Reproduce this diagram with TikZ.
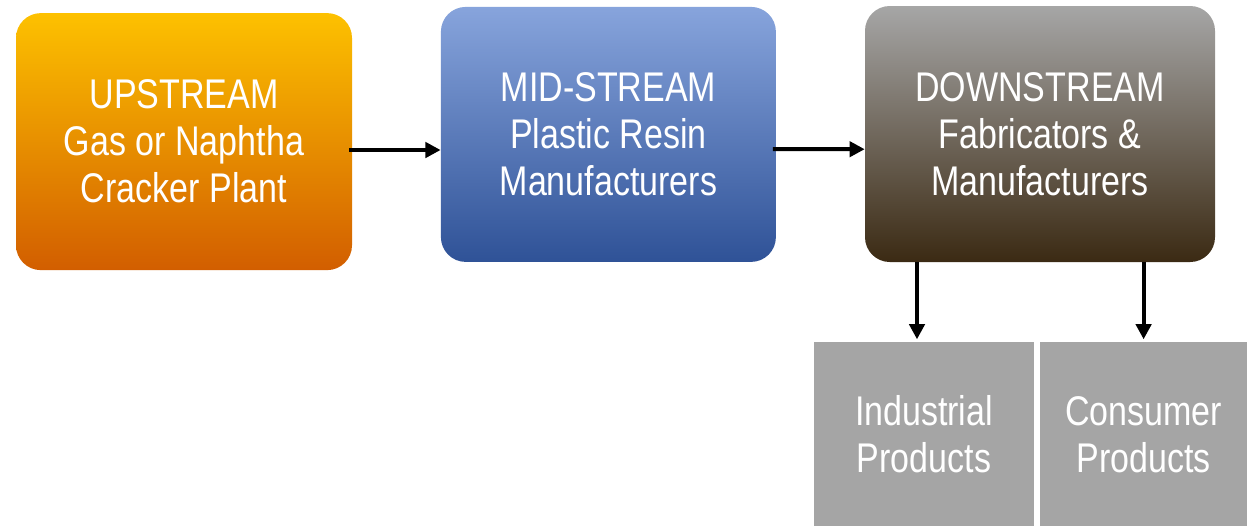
\documentclass[tikz,border=0pt]{standalone}
\usepackage{fontspec}
\setmainfont{Liberation Sans}[FakeStretch=0.82]
\usepackage{tikz}
\usetikzlibrary{arrows.meta, positioning, calc}

\definecolor{upTop}{HTML}{FDC100}
\definecolor{upBot}{HTML}{D25E00}
\definecolor{midTop}{HTML}{87A4DC}
\definecolor{midBot}{HTML}{2F5297}
\definecolor{downTop}{HTML}{A6A6A6}
\definecolor{downBot}{HTML}{3B2A13}
\definecolor{prodGray}{HTML}{A5A5A5}

\begin{document}
\begin{tikzpicture}[>={Triangle[length=0.38cm, width=0.38cm]},
    stage/.style={rounded corners=0.62cm, text=white, align=center,
        inner sep=0pt, font=\fontsize{29.5}{33.5}\selectfont},
    prod/.style={fill=prodGray, text=white, align=center,
        inner sep=0pt, font=\fontsize{29.5}{33.5}\selectfont},
    flow/.style={line width=2.8pt, black, ->}]
    \useasboundingbox (0, 0) rectangle (31.175, -13.15);

    % Stages
    \node[stage, top color=upTop, bottom color=upBot,
        minimum width=8.4cm, minimum height=6.425cm] (up) at (4.6, -3.54)
        {UPSTREAM\\Gas or Naphtha\\Cracker Plant};
    \node[stage, top color=midTop, bottom color=midBot,
        minimum width=8.375cm, minimum height=6.375cm] (mid) at (15.21, -3.36)
        {MID-STREAM\\Plastic Resin\\Manufacturers};
    \node[stage, top color=downTop, bottom color=downBot,
        minimum width=8.75cm, minimum height=6.4cm] (down) at (26.0, -3.35)
        {DOWNSTREAM\\Fabricators \&\\Manufacturers};

    % Products
    \node[prod, minimum width=5.5cm, minimum height=4.6cm] (ind) at (23.1, -10.86)
        {Industrial\\Products};
    \node[prod, minimum width=5.175cm, minimum height=4.6cm] (con) at (28.59, -10.86)
        {Consumer\\Products};

    \draw[flow] ([xshift=-0.08cm, yshift=-0.21cm]up.east) -- ([yshift=-0.39cm]mid.west);
    \draw[flow] ([xshift=-0.08cm, yshift=-0.37cm]mid.east) -- ([yshift=-0.38cm]down.west);

    \draw[flow, shorten >=2pt] ([xshift=-0.175cm]ind.north |- down.south) -- ([xshift=-0.175cm]ind.north);
    \draw[flow, shorten >=2pt] (con.north |- down.south) -- (con.north);

\end{tikzpicture}
\end{document}
